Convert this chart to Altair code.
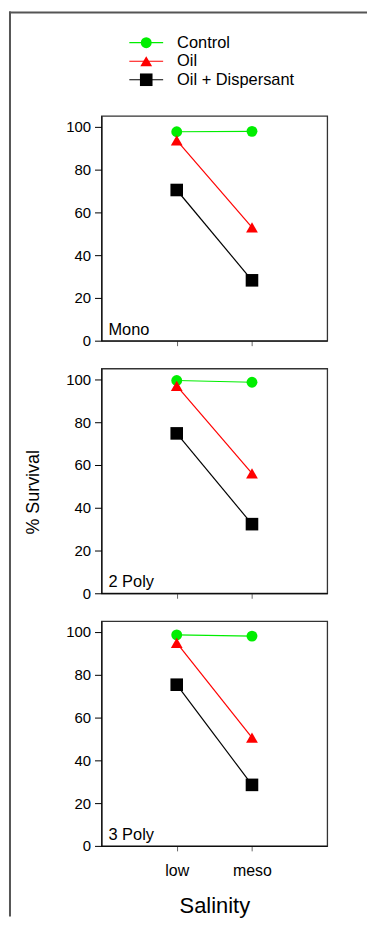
import altair as alt
import pandas as pd

salinity = ["low", "meso"]
treatments = ["Control", "Oil", "Oil + Dispersant"]
panel_names = ["Mono", "2 Poly", "3 Poly"]

mono_control = [97.6, 97.8]
mono_oil = [93.6, 52.9]
mono_disp = [70.4, 28.2]
poly2_control = [99.4, 98.6]
poly2_oil = [96.9, 56.0]
poly2_disp = [74.7, 32.3]
poly3_control = [98.6, 98.0]
poly3_oil = [94.8, 50.6]
poly3_disp = [75.3, 28.5]

y_ticks = [0, 20, 40, 60, 80, 100]

colors = ["#00ee00", "#ff0000", "#000000"]
shapes = ["circle", "triangle-up", "square"]
sizes = [120, 160, 100]

panel_values = {
    "Mono": [mono_control, mono_oil, mono_disp],
    "2 Poly": [poly2_control, poly2_oil, poly2_disp],
    "3 Poly": [poly3_control, poly3_oil, poly3_disp],
}

rows = []
for p in panel_names:
    for t, vals in zip(treatments, panel_values[p]):
        for s, v in zip(salinity, vals):
            rows.append({"panel": p, "treatment": t, "salinity": s, "survival": v})
df = pd.DataFrame(rows)

W, H = 227, 226
FONT = "Liberation Sans"

color_scale = alt.Scale(domain=treatments, range=colors)
shape_scale = alt.Scale(domain=treatments, range=shapes)
size_scale = alt.Scale(domain=treatments, range=sizes)


def panel(name, idx):
    bottom = idx == 2
    middle = idx == 1
    d = df[df.panel == name]

    xax = dict(labels=bottom, ticks=True, tickSize=5, tickColor="#666",
               domainColor="#000", grid=False, labelFont=FONT, labelFontSize=16,
               labelPadding=12, labelColor="#000", labelAngle=0)
    if bottom:
        xax.update(titleFont=FONT, titleFontSize=22, titleFontWeight="normal",
                   titlePadding=17, titleColor="#000")
    yax = dict(values=y_ticks, tickSize=7, tickColor="#000", domainColor="#000",
               grid=False, labelFont=FONT, labelFontSize=15, labelPadding=4,
               labelColor="#000")
    if middle:
        yax.update(titleFont=FONT, titleFontSize=18, titleFontWeight="normal",
                   titleColor="#000", titleX=-68, titleY=124, titleAngle=270,
                   titleBaseline="middle", titleAlign="center")

    x_enc = alt.X("salinity:N",
                  scale=alt.Scale(type="point", domain=salinity, padding=1),
                  axis=alt.Axis(**xax),
                  title="Salinity" if bottom else None)
    y_enc = alt.Y("survival:Q", scale=alt.Scale(domain=[0, 105], nice=False),
                  axis=alt.Axis(**yax),
                  title="% Survival" if middle else None)

    base = alt.Chart(d).encode(x=x_enc, y=y_enc)
    lines = base.mark_line(strokeWidth=1.2).encode(
        color=alt.Color("treatment:N", scale=color_scale, legend=None),
        detail="treatment:N",
    )
    pts = base.mark_point(filled=True, opacity=1).encode(
        color=alt.Color("treatment:N", scale=color_scale, legend=None),
        shape=alt.Shape("treatment:N", scale=shape_scale, legend=None),
        size=alt.Size("treatment:N", scale=size_scale, legend=None),
    )
    lab = alt.Chart(pd.DataFrame({"panel": [name]})).mark_text(
        align="left", baseline="alphabetic", fontSize=16.5, font=FONT, color="#000"
    ).encode(x=alt.value(7), y=alt.value(H - 6), text="panel:N")
    return alt.layer(lines, pts, lab).properties(width=W, height=H)


leg_df = pd.DataFrame({"treatment": treatments})
leg_y = alt.Y("treatment:N",
              scale=alt.Scale(type="point", domain=treatments, padding=0.45),
              axis=None)
leg_color = alt.Color("treatment:N", scale=color_scale, legend=None)
leg_rule = alt.Chart(leg_df).mark_rule(strokeWidth=1.2).encode(
    x=alt.value(28), x2=alt.value(62), y=leg_y, color=leg_color)
leg_pts = alt.Chart(leg_df).mark_point(filled=True, opacity=1).encode(
    x=alt.value(45), y=leg_y, color=leg_color,
    shape=alt.Shape("treatment:N", scale=shape_scale, legend=None),
    size=alt.Size("treatment:N", scale=size_scale, legend=None))
leg_txt = alt.Chart(leg_df).mark_text(
    align="left", baseline="middle", fontSize=16.5, font=FONT, color="#000"
).encode(x=alt.value(76), y=leg_y, text="treatment:N")

frame_df = pd.DataFrame({"f": [0]})
frame_left = alt.Chart(frame_df).mark_rule(color="#555", strokeWidth=2).encode(
    x=alt.value(-92), y=alt.value(-23), y2=alt.value(887))
frame_top = alt.Chart(frame_df).mark_rule(color="#555", strokeWidth=2).encode(
    x=alt.value(-93), x2=alt.value(267), y=alt.value(-22))

legend = alt.layer(frame_left, frame_top, leg_rule, leg_pts, leg_txt).properties(
    width=W, height=54, view=alt.ViewBackground(strokeOpacity=0))

chart = alt.vconcat(
    legend, panel("Mono", 0), panel("2 Poly", 1), panel("3 Poly", 2),
    spacing=28, bounds="flush",
).configure_view(stroke="#333", strokeWidth=1.3).properties(padding=0)

chart.save("out.html", embed_options={"renderer": "svg", "actions": False})
